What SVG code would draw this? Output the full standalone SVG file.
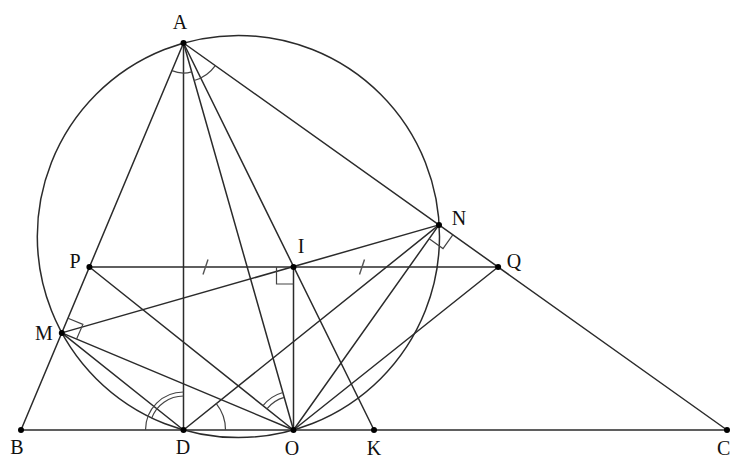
<svg xmlns="http://www.w3.org/2000/svg" width="731" height="459" viewBox="0 0 731 459">
<style>
.ln{stroke:#2b2b2b;stroke-width:1.5;fill:none;stroke-linecap:round}
.mk{stroke:#444;stroke-width:1.2;fill:none}
.tk{stroke:#555;stroke-width:1.4;fill:none}
.pt{fill:#000}
.lb{font-family:"Liberation Serif","Times New Roman",serif;font-size:20px;fill:#111;text-anchor:middle}
</style>
<rect width="731" height="459" fill="#fff"/>
<g id="circle"><circle class="ln" cx="238.4" cy="236.5" r="201.1"/></g>
<g id="connectors">
<line class="ln" x1="21" y1="430" x2="727" y2="430"/>
<line class="ln" x1="183.5" y1="43" x2="21" y2="430"/>
<line class="ln" x1="183.5" y1="43" x2="727" y2="430"/>
<line class="ln" x1="183.5" y1="43" x2="183.5" y2="430"/>
<line class="ln" x1="183.5" y1="43" x2="293.5" y2="430"/>
<line class="ln" x1="183.5" y1="43" x2="374" y2="430"/>
<line class="ln" x1="89.4" y1="267" x2="498.1" y2="267"/>
<line class="ln" x1="61.8" y1="332.9" x2="439" y2="224.9"/>
<line class="ln" x1="293.5" y1="267" x2="293.5" y2="430"/>
<line class="ln" x1="89.4" y1="267" x2="293.5" y2="430"/>
<line class="ln" x1="61.8" y1="332.9" x2="183.5" y2="430"/>
<line class="ln" x1="61.8" y1="332.9" x2="293.5" y2="430"/>
<line class="ln" x1="183.5" y1="430" x2="439" y2="224.9"/>
<line class="ln" x1="293.5" y1="430" x2="439" y2="224.9"/>
<line class="ln" x1="293.5" y1="430" x2="498.1" y2="267"/>
</g>
<g id="marks">
<path class="mk" d="M191.7,71.85 A30,30 0 0 1 171.9,70.66"/>
<path class="mk" d="M215.3,65.6 A39,39 0 0 1 194.2,80.5"/>
<path class="mk" d="M145.5,430 A38,38 0 0 1 183.5,392"/>
<path class="mk" d="M151.55,418.37 A34,34 0 0 1 183.5,396"/>
<path class="mk" d="M216.3,403.7 A42,42 0 0 1 225.5,430"/>
<path class="mk" d="M263.0,405.7 A39,39 0 0 1 282.8,392.5"/>
<path class="mk" d="M266.9,408.8 A34,34 0 0 1 284.2,397.3"/>
<path class="mk" d="M68,318.2 L82.9,324.4 L76.6,339.1"/>
<path class="mk" d="M429.2,238.8 L443,248.6 L452.8,234.8"/>
<path class="mk" d="M276.5,267 L276.5,284 L293.5,284"/>
<line class="tk" x1="203" y1="274.5" x2="208" y2="259.5"/>
<line class="tk" x1="359.5" y1="274.5" x2="364.5" y2="259.5"/>
</g>
<g id="A"><circle class="pt" cx="183.5" cy="43" r="3"/><text class="lb" x="180" y="29">A</text></g>
<g id="B"><circle class="pt" cx="21" cy="430" r="3"/><text class="lb" x="17" y="454">B</text></g>
<g id="D"><circle class="pt" cx="183.5" cy="430" r="3"/><text class="lb" x="183" y="454">D</text></g>
<g id="O"><circle class="pt" cx="293.5" cy="430" r="3"/><text class="lb" x="292" y="455">O</text></g>
<g id="K"><circle class="pt" cx="374" cy="430" r="3"/><text class="lb" x="374" y="455">K</text></g>
<g id="C"><circle class="pt" cx="727" cy="430" r="3"/><text class="lb" x="717" y="455" style="text-anchor:start">C</text></g>
<g id="M"><circle class="pt" cx="61.8" cy="332.9" r="3"/><text class="lb" x="44" y="340">M</text></g>
<g id="P"><circle class="pt" cx="89.4" cy="267" r="3"/><text class="lb" x="75" y="268">P</text></g>
<g id="I"><circle class="pt" cx="293.5" cy="267" r="3"/><text class="lb" x="301" y="253">I</text></g>
<g id="N"><circle class="pt" cx="439" cy="224.9" r="3"/><text class="lb" x="459" y="225">N</text></g>
<g id="Q"><circle class="pt" cx="498.1" cy="267" r="3"/><text class="lb" x="514" y="268">Q</text></g>
</svg>
